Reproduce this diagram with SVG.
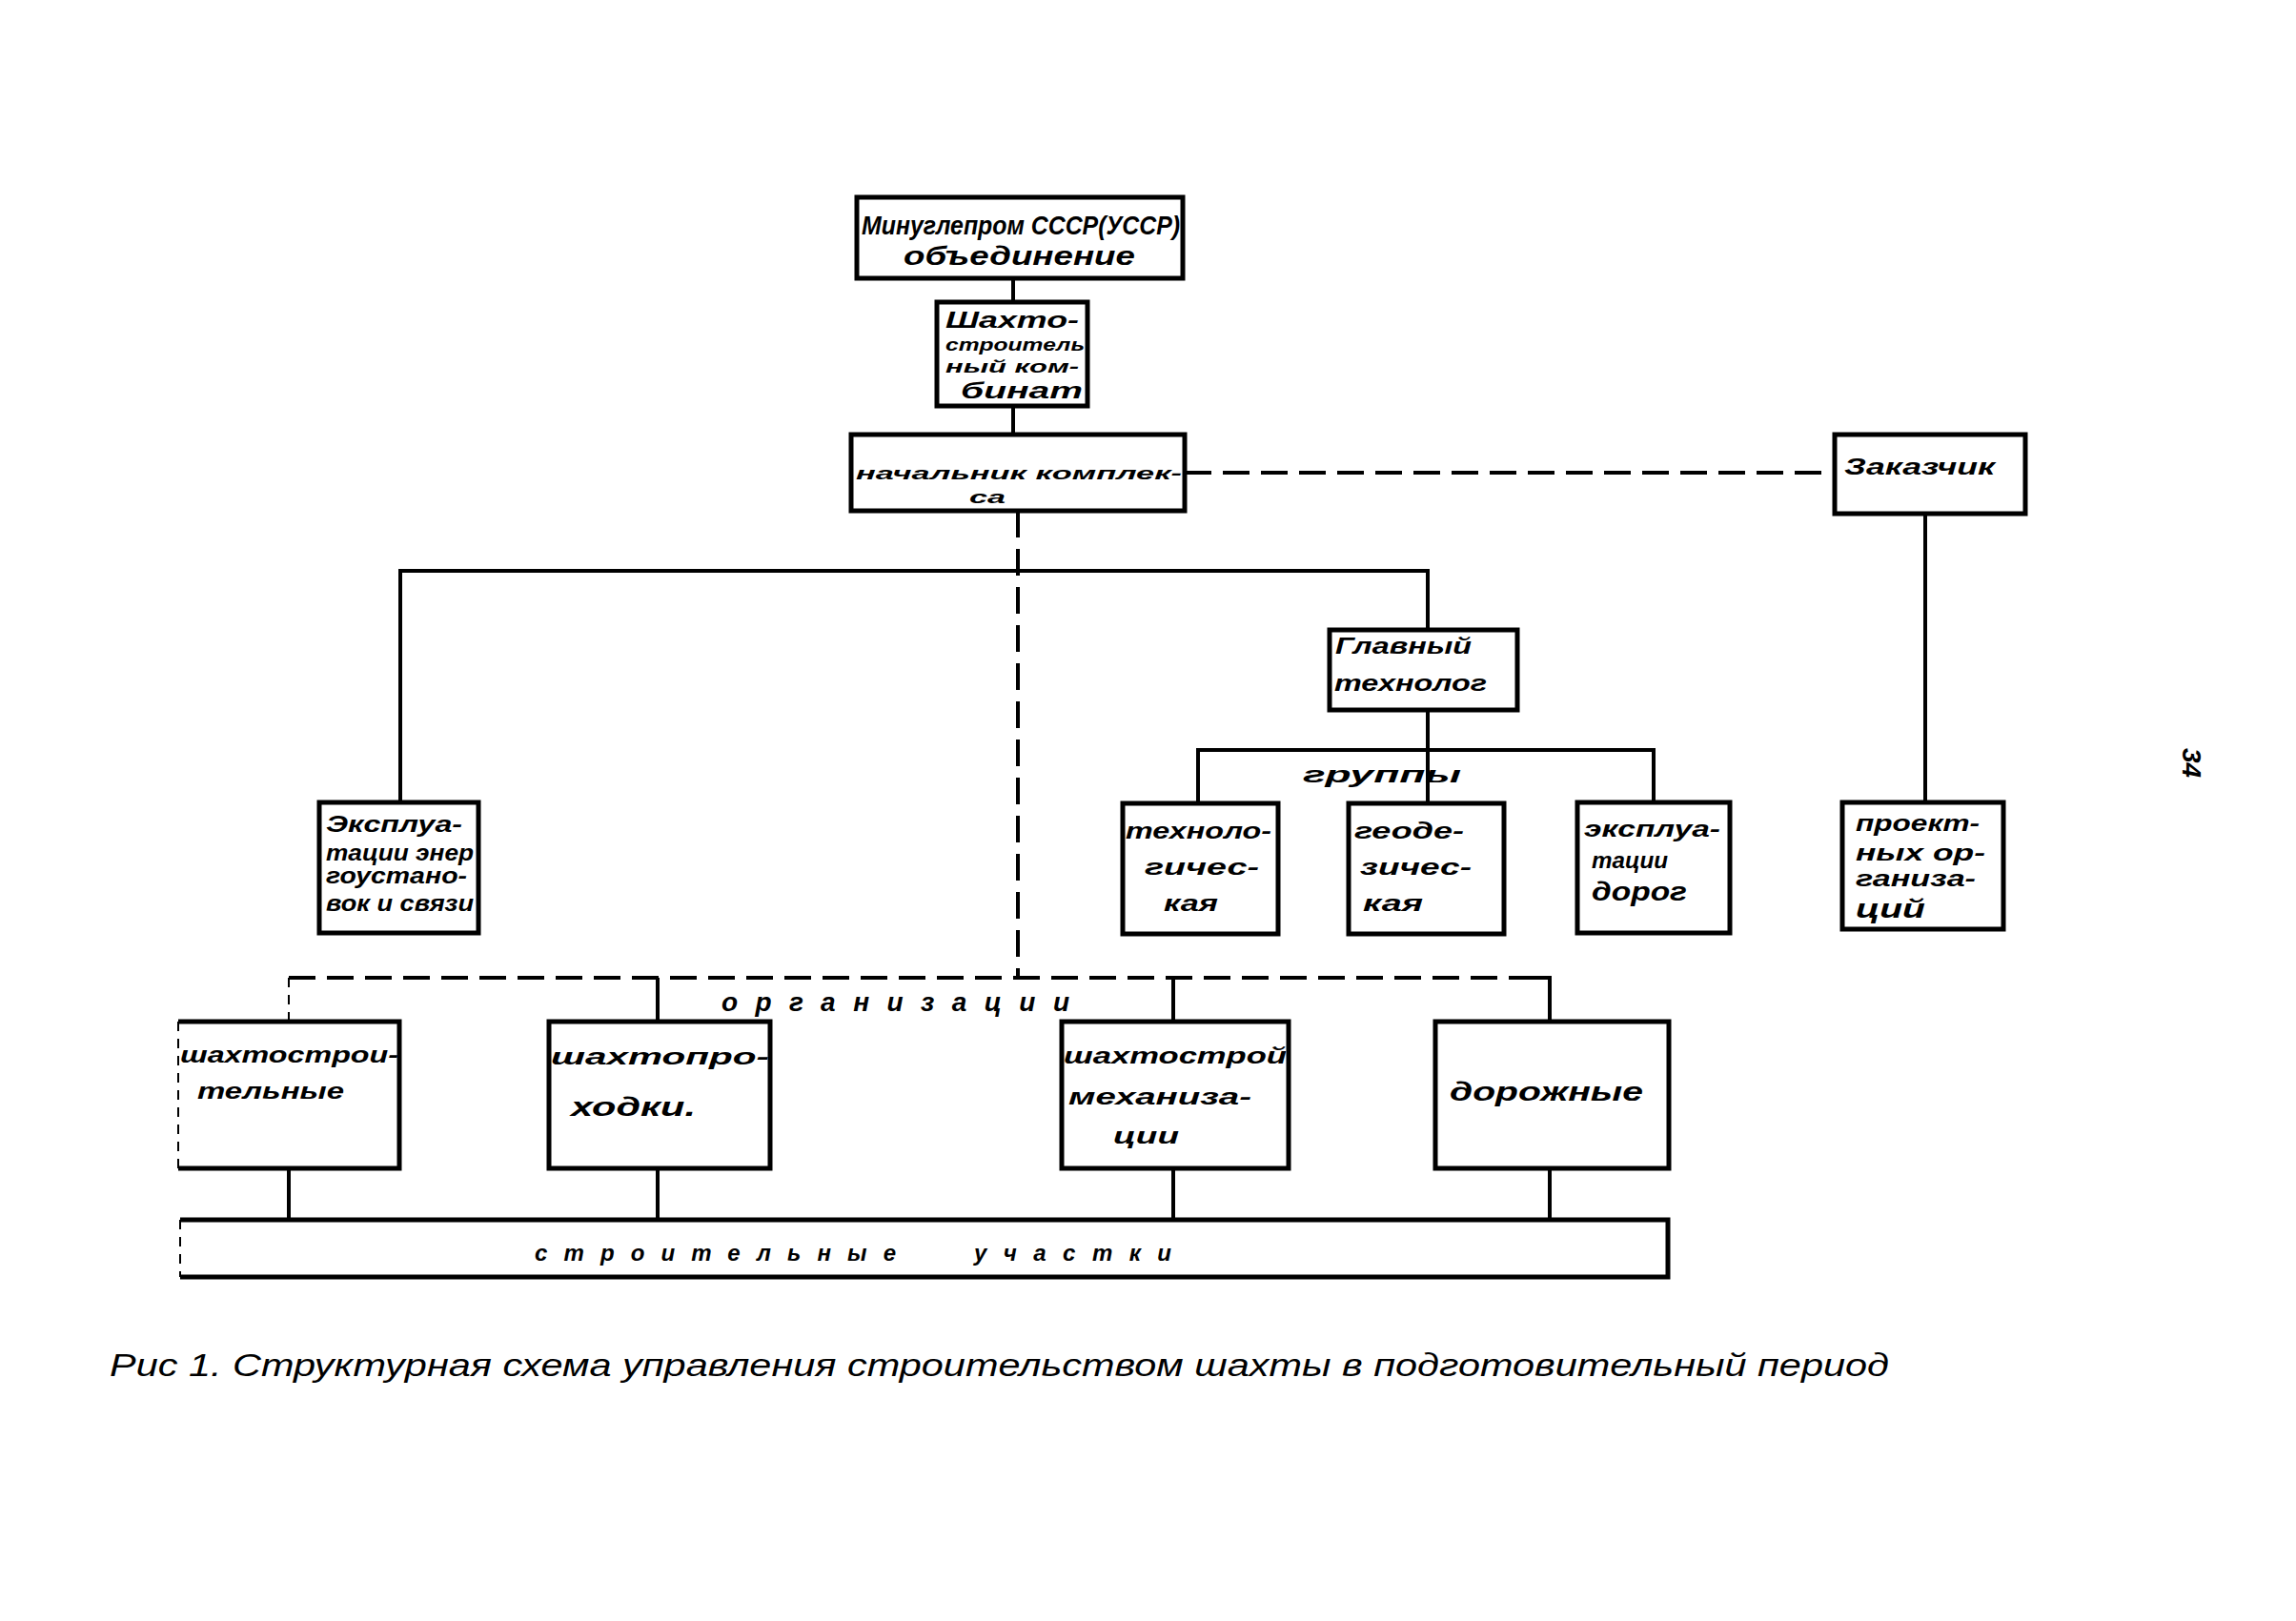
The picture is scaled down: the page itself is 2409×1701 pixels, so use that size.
<svg xmlns="http://www.w3.org/2000/svg" width="2409" height="1701" viewBox="0 0 2409 1701">
<style>
.box{fill:none;stroke:#000;stroke-width:5}
.ln{fill:none;stroke:#000;stroke-width:4}
.dash{fill:none;stroke:#000;stroke-width:4;stroke-dasharray:28 12}
.thin{fill:none;stroke:#000;stroke-width:2;stroke-dasharray:10 8}
text{font-family:"Liberation Sans","DejaVu Sans",sans-serif;font-style:italic;font-weight:bold;font-size:24px;fill:#000}
.big{font-size:28px}
.sm{font-size:19px}
.cap{font-size:34px;font-weight:normal}
</style>
<rect width="2409" height="1701" fill="#fff"/>
<g id="connectors">
<line class="ln" x1="1063" y1="292" x2="1063" y2="318"/>
<line class="ln" x1="1063" y1="426" x2="1063" y2="456"/>
<line class="dash" x1="1243" y1="496" x2="1925" y2="496"/>
<line class="ln" x1="2020" y1="539" x2="2020" y2="842"/>
<line class="dash" x1="1068" y1="536" x2="1068" y2="1026"/>
<polyline class="ln" points="420,842 420,599 1498,599 1498,661"/>
<line class="ln" x1="1498" y1="745" x2="1498" y2="787"/>
<polyline class="ln" points="1257,843 1257,787 1735,787 1735,842"/>
<line class="ln" x1="1498" y1="787" x2="1498" y2="843"/>
<line class="dash" x1="303" y1="1026" x2="1600" y2="1026"/>
<polyline class="ln" points="1600,1026 1626,1026 1626,1072"/>
<line class="thin" x1="303" y1="1026" x2="303" y2="1072"/>
<line class="ln" x1="690" y1="1026" x2="690" y2="1072"/>
<line class="ln" x1="1231" y1="1026" x2="1231" y2="1072"/>
<line class="ln" x1="303" y1="1226" x2="303" y2="1280"/>
<line class="ln" x1="690" y1="1226" x2="690" y2="1280"/>
<line class="ln" x1="1231" y1="1226" x2="1231" y2="1280"/>
<line class="ln" x1="1626" y1="1226" x2="1626" y2="1280"/>
</g>
<g id="n-min">
<rect class="box" x="899" y="207" width="342" height="85"/>
<text class="big" x="904" y="246" textLength="334" lengthAdjust="spacingAndGlyphs">Минуглепром СССР(УССР)</text>
<text class="big" x="948" y="278" textLength="243" lengthAdjust="spacingAndGlyphs">объединение</text>
</g>
<g id="n-kombinat">
<rect class="box" x="983" y="317" width="158" height="109"/>
<text x="992" y="344" textLength="140" lengthAdjust="spacingAndGlyphs">Шахто-</text>
<text class="sm" x="992" y="368" textLength="146" lengthAdjust="spacingAndGlyphs">строитель</text>
<text class="sm" x="992" y="391" textLength="140" lengthAdjust="spacingAndGlyphs">ный ком-</text>
<text x="1008" y="418" textLength="128" lengthAdjust="spacingAndGlyphs">бинат</text>
</g>
<g id="n-nachalnik">
<rect class="box" x="893" y="456" width="350" height="80"/>
<text class="sm" x="898" y="503" textLength="342" lengthAdjust="spacingAndGlyphs">начальник комплек-</text>
<text class="sm" x="1017" y="528" textLength="38" lengthAdjust="spacingAndGlyphs">са</text>
</g>
<g id="n-zakazchik">
<rect class="box" x="1925" y="456" width="200" height="83"/>
<text x="1935" y="498" textLength="158" lengthAdjust="spacingAndGlyphs">Заказчик</text>
</g>
<g id="n-expl-energo">
<rect class="box" x="335" y="842" width="167" height="137"/>
<text x="342" y="873" textLength="143" lengthAdjust="spacingAndGlyphs">Эксплуа-</text>
<text x="342" y="903" textLength="155" lengthAdjust="spacingAndGlyphs">тации энер</text>
<text x="342" y="927" textLength="148" lengthAdjust="spacingAndGlyphs">гоустано-</text>
<text x="342" y="956" textLength="155" lengthAdjust="spacingAndGlyphs">вок и связи</text>
</g>
<g id="n-glavny">
<rect class="box" x="1395" y="661" width="197" height="84"/>
<text x="1401" y="686" textLength="143" lengthAdjust="spacingAndGlyphs">Главный</text>
<text x="1400" y="725" textLength="160" lengthAdjust="spacingAndGlyphs">технолог</text>
</g>
<g id="lbl-gruppy">
<text x="1367" y="821" textLength="166" lengthAdjust="spacingAndGlyphs">группы</text>
</g>
<g id="n-tekhnolog">
<rect class="box" x="1178" y="843" width="163" height="137"/>
<text x="1181" y="880" textLength="153" lengthAdjust="spacingAndGlyphs">техноло-</text>
<text x="1201" y="918" textLength="120" lengthAdjust="spacingAndGlyphs">гичес-</text>
<text x="1221" y="956" textLength="57" lengthAdjust="spacingAndGlyphs">кая</text>
</g>
<g id="n-geodez">
<rect class="box" x="1415" y="843" width="163" height="137"/>
<text x="1421" y="880" textLength="115" lengthAdjust="spacingAndGlyphs">геоде-</text>
<text x="1427" y="918" textLength="117" lengthAdjust="spacingAndGlyphs">зичес-</text>
<text x="1430" y="956" textLength="63" lengthAdjust="spacingAndGlyphs">кая</text>
</g>
<g id="n-expl-dorog">
<rect class="box" x="1655" y="842" width="160" height="137"/>
<text x="1662" y="878" textLength="143" lengthAdjust="spacingAndGlyphs">эксплуа-</text>
<text x="1670" y="911" textLength="80" lengthAdjust="spacingAndGlyphs">тации</text>
<text class="big" x="1670" y="945" textLength="100" lengthAdjust="spacingAndGlyphs">дорог</text>
</g>
<g id="n-proekt">
<rect class="box" x="1933" y="842" width="169" height="133"/>
<text x="1947" y="872" textLength="130" lengthAdjust="spacingAndGlyphs">проект-</text>
<text x="1947" y="903" textLength="136" lengthAdjust="spacingAndGlyphs">ных ор-</text>
<text x="1947" y="930" textLength="126" lengthAdjust="spacingAndGlyphs">ганиза-</text>
<text class="big" x="1947" y="963" textLength="73" lengthAdjust="spacingAndGlyphs">ций</text>
</g>
<g id="lbl-org">
<text class="big" x="757" y="1061" textLength="365" lengthAdjust="spacing">организации</text>
</g>
<g id="n-shakhtostr">
<polyline class="box" points="187,1072 419,1072 419,1226 187,1226"/>
<line class="thin" x1="187" y1="1072" x2="187" y2="1226"/>
<text x="189" y="1115" textLength="229" lengthAdjust="spacingAndGlyphs">шахтострои-</text>
<text x="207" y="1153" textLength="154" lengthAdjust="spacingAndGlyphs">тельные</text>
</g>
<g id="n-prokhodki">
<rect class="box" x="576" y="1072" width="232" height="154"/>
<text x="578" y="1117" textLength="229" lengthAdjust="spacingAndGlyphs">шахтопро-</text>
<text class="big" x="599" y="1171" textLength="131" lengthAdjust="spacingAndGlyphs">ходки.</text>
</g>
<g id="n-mekh">
<rect class="box" x="1114" y="1072" width="238" height="154"/>
<text x="1116" y="1116" textLength="234" lengthAdjust="spacingAndGlyphs">шахтострой</text>
<text x="1121" y="1159" textLength="192" lengthAdjust="spacingAndGlyphs">механиза-</text>
<text x="1168" y="1200" textLength="69" lengthAdjust="spacingAndGlyphs">ции</text>
</g>
<g id="n-dorozh">
<rect class="box" x="1506" y="1072" width="245" height="154"/>
<text class="big" x="1521" y="1155" textLength="203" lengthAdjust="spacingAndGlyphs">дорожные</text>
</g>
<g id="n-uchastki">
<polyline class="box" points="189,1280 1750,1280 1750,1340 189,1340"/>
<line class="thin" x1="189" y1="1280" x2="189" y2="1340"/>
<text x="561" y="1323" textLength="379" lengthAdjust="spacing">строительные</text>
<text x="1022" y="1323" textLength="207" lengthAdjust="spacing">участки</text>
</g>
<g id="caption">
<text class="cap" x="115" y="1444" textLength="1867" lengthAdjust="spacingAndGlyphs">Рис 1. Структурная  схема  управления  строительством  шахты  в подготовительный   период</text>
</g>
<g id="page">
<text class="big" transform="translate(2290,785) rotate(90)">34</text>
</g>
</svg>
